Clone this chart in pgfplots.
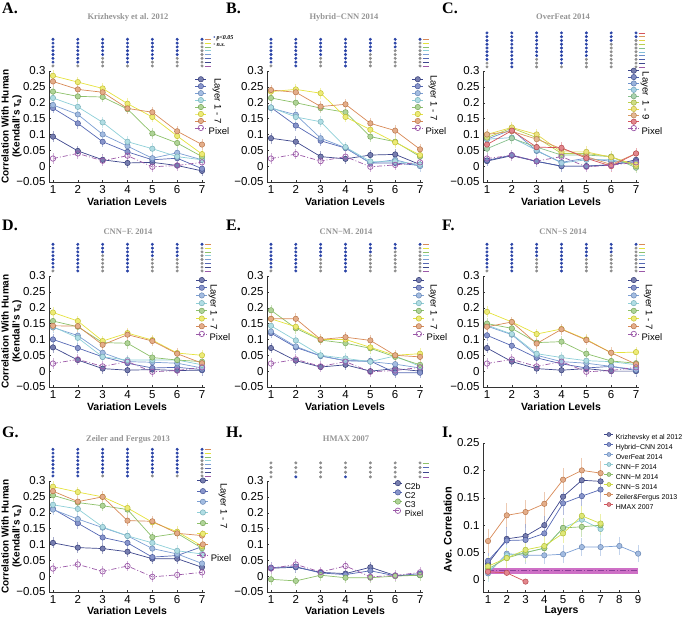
\documentclass[border=0pt]{standalone}
\usepackage{pgfplots}
\pgfplotsset{compat=1.18}
\usepackage{pgfplotstable}
\usepackage{fontspec}
\setmainfont{Liberation Sans}
\newfontfamily\serif{Liberation Serif}

\definecolor{s1}{HTML}{3D468C}
\definecolor{s2}{HTML}{5568B4}
\definecolor{s3}{HTML}{7C9FD4}
\definecolor{s4}{HTML}{8ECFD8}
\definecolor{s5}{HTML}{8DC16A}
\definecolor{s6}{HTML}{E5E23C}
\definecolor{s7}{HTML}{D88A57}
\definecolor{n1}{HTML}{3D468C}
\definecolor{n2}{HTML}{4B5DA8}
\definecolor{n3}{HTML}{6C8FCC}
\definecolor{n4}{HTML}{83BED8}
\definecolor{n5}{HTML}{86C08C}
\definecolor{n6}{HTML}{B9CF4E}
\definecolor{n7}{HTML}{E2D646}
\definecolor{n8}{HTML}{D99A62}
\definecolor{n9}{HTML}{D6545C}
\definecolor{pcol}{HTML}{9B59A8}
\definecolor{ys}{HTML}{D2DE3E}
\definecolor{sigblue}{HTML}{2A43A6}
\definecolor{siggrey}{HTML}{8C8C8C}
\definecolor{bandc}{HTML}{C24CB8}
\definecolor{bandl}{HTML}{8E3F9A}

% columns: variation level, layers 1..7, pixel
\pgfplotstableread{
x L1 L2 L3 L4 L5 L6 L7 P
1 0.093 0.183 0.193 0.215 0.235 0.285 0.267 0.024
2 0.048 0.135 0.163 0.187 0.220 0.265 0.242 0.040
3 0.020 0.077 0.100 0.138 0.218 0.245 0.233 0.017
4 0.010 0.045 0.063 0.077 0.180 0.197 0.182 0.033
5 0.012 0.020 0.025 0.055 0.103 0.155 0.170 -0.002
6 0.002 0.025 0.042 0.030 0.073 0.095 0.110 0.002
7 -0.015 -0.008 0.020 0.020 0.030 0.038 0.068 0.012
}\tabA
\pgfplotstableread{
x L1 L2 L3 L4 L5 L6 L7 P
1 0.088 0.185 0.183 0.185 0.215 0.235 0.240 0.024
2 0.077 0.128 0.162 0.155 0.200 0.242 0.233 0.038
3 0.030 0.080 0.088 0.140 0.183 0.230 0.188 0.016
4 0.023 0.057 0.058 0.060 0.170 0.155 0.195 0.030
5 0.035 0.010 0.010 0.015 0.093 0.115 0.135 -0.002
6 0.037 0.010 0.020 0.015 0.077 0.075 0.112 0.004
7 0.005 0.002 0.000 0.005 0.030 0.035 0.053 0.012
}\tabB
\pgfplotstableread{
x L1 L2 L3 L4 L5 L6 L7 L8 L9 P
1 0.016 0.018 0.085 0.085 0.055 0.090 0.100 0.100 0.068 0.024
2 0.033 0.035 0.115 0.090 0.088 0.120 0.122 0.110 0.112 0.034
3 0.015 0.015 0.048 0.050 0.060 0.090 0.100 0.085 0.060 0.016
4 0.000 0.000 0.012 0.010 0.035 0.040 0.045 0.055 0.058 0.030
5 0.000 0.000 0.025 0.020 0.035 0.040 0.045 0.030 0.025 -0.002
6 0.003 0.005 0.015 0.020 0.030 0.030 0.028 0.005 0.000 0.003
7 0.020 0.015 0.010 0.005 -0.005 0.000 0.005 0.040 0.040 0.012
}\tabC
\pgfplotstableread{
x L1 L2 L3 L4 L5 L6 L7 P
1 0.075 0.100 0.138 0.140 0.158 0.185 0.143 0.024
2 0.035 0.073 0.112 0.105 0.140 0.158 0.142 0.037
3 0.008 0.045 0.058 0.045 0.090 0.095 0.083 0.015
4 0.003 0.025 0.030 0.035 0.088 0.120 0.115 0.030
5 0.005 0.010 0.028 0.035 0.043 0.098 0.095 -0.002
6 0.002 0.012 0.025 0.035 0.035 0.057 0.055 0.002
7 0.003 0.005 0.010 0.020 0.030 0.050 0.025 0.012
}\tabD
\pgfplotstableread{
x L1 L2 L3 L4 L5 L6 L7 P
1 0.073 0.120 0.125 0.143 0.192 0.165 0.165 0.024
2 0.033 0.075 0.078 0.097 0.135 0.140 0.165 0.037
3 0.013 0.048 0.048 0.050 0.098 0.100 0.100 0.015
4 0.020 0.033 0.033 0.040 0.088 0.100 0.107 0.030
5 0.000 0.032 0.030 0.030 0.072 0.075 0.097 -0.002
6 0.008 -0.005 0.022 0.048 0.045 0.050 0.050 0.002
7 0.000 -0.005 0.010 0.015 0.020 0.055 0.045 0.012
}\tabE
\pgfplotstableread{
x L1 L2 L3 L4 L5 L6 L7 P
1 0.073 0.113 0.142 0.145 0.150 0.187 0.140 0.024
2 0.030 0.080 0.115 0.117 0.135 0.155 0.155 0.037
3 0.008 0.042 0.050 0.055 0.090 0.117 0.087 0.015
4 0.003 0.023 0.030 0.043 0.093 0.133 0.132 0.030
5 0.008 0.010 0.025 0.033 0.055 0.100 0.098 -0.002
6 0.000 0.015 0.015 0.030 0.032 0.058 0.058 0.002
7 0.000 0.002 0.005 0.020 0.025 0.060 0.022 0.012
}\tabF
\pgfplotstableread{
x L1 L2 L3 L4 L5 L6 L7 P
1 0.105 0.212 0.210 0.225 0.255 0.282 0.268 0.024
2 0.090 0.167 0.180 0.212 0.232 0.265 0.235 0.037
3 0.087 0.122 0.153 0.155 0.222 0.250 0.250 0.015
4 0.077 0.105 0.127 0.127 0.210 0.215 0.175 0.032
5 0.055 0.060 0.087 0.105 0.123 0.170 0.173 -0.002
6 0.055 0.065 0.070 0.080 0.135 0.140 0.135 0.004
7 0.028 0.093 0.040 0.070 0.088 0.095 0.128 0.012
}\tabG
\pgfplotstableread{
x C2b C2 C3 P
1 0.025 0.027 -0.010 0.024
2 0.028 0.030 -0.015 0.037
3 0.012 0.010 0.003 0.013
4 0.008 0.005 -0.005 0.032
5 0.028 0.017 -0.005 -0.002
6 0.002 0.001 0.000 0.002
7 0.003 0.008 0.003 0.012
}\tabH

\pgfplotsset{
  lay/.style={color=#1, line width=0.7pt, mark=*, mark size=2.7pt,
    mark options={fill=#1!70!white, draw=#1!85!black, line width=0.5pt},
    error bars/y dir=both, error bars/y fixed=0.017, error bars/error mark=none,
    error bars/error bar style={line width=0.8pt, color=#1!45!white}},
  pix/.style={color=pcol, line width=0.7pt, dash pattern=on 5pt off 2pt on 1pt off 2pt,
    mark=o, mark size=2.7pt, mark options={solid, fill=white},
    error bars/y dir=both, error bars/y fixed=0.017, error bars/error mark=none,
    error bars/error bar style={solid, line width=0.8pt, color=pcol!45!white}},
  sigb/.style={only marks, mark=*, mark size=1.3pt, color=sigblue, forget plot},
  sigg/.style={only marks, mark=*, mark size=1.3pt, color=siggrey, forget plot},
  base/.style={scale only axis, clip=false,
    axis x line*=bottom, axis y line*=left,
    tick align=inside, major tick length=2pt,
    tick style={black!80, line width=0.4pt},
    axis line style={black!80, line width=0.5pt},
    tick label style={font=\fontsize{11.5}{13}\selectfont},
    /pgf/number format/assume math mode=true,
    legend cell align=left,
    legend style={draw=none, fill=none, inner sep=0pt, outer sep=0pt,
      anchor=north west, column sep=2pt,
      font=\fontsize{9.5}{10}\selectfont}},
  vl/.style={base, width=156pt, height=111pt,
    xmin=0.84, xmax=7.12, ymin=-0.05, ymax=0.3,
    xtick={1,2,3,4,5,6,7},
    ytick={-0.05,0,0.05,0.1,0.15,0.2,0.25,0.3},
    yticklabels={−0.05,0,0.05,0.1,0.15,0.2,0.25,0.3},
    xlabel={Variation Levels},
    xlabel style={font=\bfseries\fontsize{10.5}{12}\selectfont,
      at={(axis description cs:0.5,-0.18)}, anchor=center}},
  ylab/.style={ylabel={Correlation With Human\\(Kendall's τ\textsubscript{a})},
    ylabel style={align=center, font=\bfseries\fontsize{10}{11}\selectfont,
      at={(axis description cs:-0.24,0.5)}, anchor=center}},
  leg/.style n args={5}{legend style={at={(axis description cs:#1,#2)}, row sep=#5,
    nodes={inner sep=0pt, text height=#3, text depth=#4}}},
  limg/.style={legend image code/.code={\draw[mark repeat=2, mark phase=2, yshift=3.2pt]
    plot coordinates {(0pt,0pt) (5.5pt,0pt) (11pt,0pt)};}},
  seven/.style={legend entries={\mbox{},\mbox{},\mbox{},\mbox{},\mbox{},\mbox{},\mbox{},Pixel}}
}

% significance dots for one column: x, rows, number of blue rows from the top, base y, step
\newcommand\sigcol[5]{%
  \gdef\sigB{}\gdef\sigG{}%
  \foreach \k in {1,...,#2}{%
    \pgfmathsetmacro\yy{#4+(#2-\k)*#5}%
    \ifnum\k>#3\relax\xdef\sigG{\sigG(#1,\yy)}\else\xdef\sigB{\sigB(#1,\yy)}\fi}%
  \ifx\sigB\empty\else\edef\tmp{\noexpand\addplot[sigb] coordinates {\sigB};}\tmp\fi
  \ifx\sigG\empty\else\edef\tmp{\noexpand\addplot[sigg] coordinates {\sigG};}\tmp\fi}
\newcommand\sigpanel[4]{\foreach[count=\xx] \n in {#2}{\sigcol{\xx}{#1}{\n}{#3}{#4}}}
\newcommand\rowlines[4]{%
  \foreach[count=\k] \cc in {#2}{%
    \pgfmathsetmacro\yy{#3+(#1-\k)*#4}%
    \edef\tmp{\noexpand\addplot[forget plot, color=\cc, line width=0.5pt] coordinates {(7.1,\yy) (7.38,\yy)};}\tmp}}
\newcommand\sevenpanel[1]{%
  \foreach \i in {1,...,7}{\edef\tmp{\noexpand\addplot[lay=s\i] table[x=x,y=L\i]{\noexpand#1};}\tmp}%
  \addplot[pix] table[x=x,y=P]{#1};
  \rowlines{8}{s7,s6,s5,s4,s3,s2,s1,pcol}{0.316}{0.012}}

\begin{document}
\begin{tikzpicture}
\useasboundingbox (0pt,0pt) rectangle (685pt,-618pt);

% ---------- A
\begin{axis}[vl, ylab, seven, limg, leg={0.936}{0.950}{6.65pt}{0.25pt}{-2.4pt},
  at={(49pt,-182pt)}, anchor=south west]
\sevenpanel{\tabA}
\sigpanel{8}{7,7,5,7,6,5,1}{0.316}{0.012}
\node[rotate=-90, font=\fontsize{9.5}{10}\selectfont] at (axis description cs:1.077,0.73) {Layer 1 - 7};
\node[anchor=west, inner sep=0pt, font=\serif\bfseries\itshape\fontsize{6}{6}\selectfont]
  at (axis cs:7.45,0.403) {\textcolor{sigblue}{•}\,p<0.05};
\node[anchor=west, inner sep=0pt, font=\serif\bfseries\itshape\fontsize{6}{6}\selectfont]
  at (axis cs:7.45,0.383) {\textcolor{siggrey}{•}\,n.s.};
\end{axis}

% ---------- B
\begin{axis}[vl, seven, limg, leg={0.929}{0.950}{6.65pt}{0.25pt}{-2.4pt},
  at={(267pt,-182pt)}, anchor=south west]
\sevenpanel{\tabB}
\sigpanel{8}{7,8,5,8,4,3,1}{0.316}{0.012}
\node[rotate=-90, font=\fontsize{9.5}{10}\selectfont] at (axis description cs:1.064,0.757) {Layer 1 - 7};
\end{axis}

% ---------- C
\begin{axis}[vl, limg, leg={0.929}{1.027}{6.35pt}{0pt}{-2.7pt},
  legend entries={\mbox{},\mbox{},\mbox{},\mbox{},\mbox{},\mbox{},\mbox{},\mbox{},\mbox{},Pixel},
  at={(483pt,-182pt)}, anchor=south west]
\foreach \i in {1,...,9}{\edef\tmp{\noexpand\addplot[lay=n\i] table[x=x,y=L\i]{\noexpand\tabC};}\tmp}
\addplot[pix] table[x=x,y=P]{\tabC};
\rowlines{10}{n9,n8,n7,n6,n5,n4,n3,n2,n1,pcol}{0.313}{0.0119}
\sigpanel{10}{8,10,7,9,7,3,2}{0.313}{0.0119}
\node[rotate=-90, font=\fontsize{9.5}{10}\selectfont] at (axis description cs:1.038,0.775) {Layer \ 1 - 9};
\end{axis}

% ---------- D
\begin{axis}[vl, ylab, seven, limg, leg={0.942}{0.988}{6.9pt}{0.5pt}{-1.9pt},
  at={(49pt,-387pt)}, anchor=south west]
\sevenpanel{\tabD}
\sigpanel{8}{7,8,3,8,4,4,1}{0.316}{0.012}
\node[rotate=-90, font=\fontsize{9.5}{10}\selectfont] at (axis description cs:1.051,0.72) {Layer 1 - 7};
\end{axis}

% ---------- E
\begin{axis}[vl, seven, limg, leg={0.936}{0.988}{6.9pt}{0.5pt}{-1.9pt},
  at={(267pt,-387pt)}, anchor=south west]
\sevenpanel{\tabE}
\sigpanel{8}{7,8,4,8,3,2,1}{0.316}{0.012}
\node[rotate=-90, font=\fontsize{9.5}{10}\selectfont] at (axis description cs:1.064,0.72) {Layer 1 - 7};
\end{axis}

% ---------- F
\begin{axis}[vl, seven, limg, leg={0.929}{0.988}{6.9pt}{0.5pt}{-1.9pt},
  at={(483pt,-387pt)}, anchor=south west]
\sevenpanel{\tabF}
\sigpanel{8}{7,8,4,8,4,3,1}{0.316}{0.012}
\node[rotate=-90, font=\fontsize{9.5}{10}\selectfont] at (axis description cs:1.058,0.72) {Layer 1 - 7};
\end{axis}

% ---------- G
\begin{axis}[vl, ylab, seven, limg, leg={0.949}{1.029}{8.35pt}{1.95pt}{-0.4pt},
  xlabel style={at={(axis description cs:0.5,-0.17)}},
  at={(49pt,-592pt)}, anchor=south west]
\sevenpanel{\tabG}
\sigpanel{8}{8,8,7,8,7,7,3}{0.316}{0.012}
\node[rotate=-90, font=\fontsize{9.5}{10}\selectfont] at (axis description cs:1.115,0.775) {Layer 1 - 7};
\end{axis}

% ---------- H
\begin{axis}[vl, leg={0.808}{1.005}{7.5pt}{1.5pt}{-1pt},
  xlabel style={at={(axis description cs:0.5,-0.17)}},
  legend style={font=\fontsize{8.5}{9}\selectfont},
  legend image code/.code={\draw[mark repeat=2, mark phase=2, yshift=3pt]
    plot coordinates {(0pt,0pt) (4.5pt,0pt) (9pt,0pt)};},
  legend entries={C2b,C2,C3,Pixel},
  at={(267pt,-592pt)}, anchor=south west]
\addplot[lay=s1] table[x=x,y=C2b]{\tabH};
\addplot[lay=s2] table[x=x,y=C2]{\tabH};
\addplot[lay=s5] table[x=x,y=C3]{\tabH};
\addplot[pix] table[x=x,y=P]{\tabH};
\rowlines{4}{s5,s2,s1,pcol}{0.313}{0.0147}
\addplot[sigg] coordinates {(1,0.313)(1,0.3277)(1,0.3424)(1,0.3571)
  (2,0.3277)(2,0.3424)(2,0.3571)
  (3,0.313)(3,0.3277)(3,0.3424)(3,0.3571)
  (4,0.3277)(4,0.3424)(4,0.3571)
  (5,0.313)(5,0.3277)(5,0.3424)(5,0.3571)
  (6,0.313)(6,0.3277)(6,0.3424)(6,0.3571)
  (7,0.313)(7,0.3277)(7,0.3424)(7,0.3571)};
\addplot[sigb] coordinates {(2,0.313)(4,0.313)};
\end{axis}

% ---------- I
\begin{axis}[base, width=157pt, height=149pt,
  xmin=0.733, xmax=9.1, ymin=-0.022, ymax=0.25,
  xtick={1,2,3,4,5,6,7,8,9},
  ytick={0,0.05,0.1,0.15,0.2,0.25},
  yticklabels={0,0.05,0.1,0.15,0.2,0.25},
  xlabel={Layers},
  xlabel style={font=\bfseries\fontsize{10.5}{12}\selectfont,
    at={(axis description cs:0.5,-0.13)}, anchor=center},
  ylabel={Ave. Correlation},
  ylabel style={font=\bfseries\fontsize{11}{13}\selectfont,
    at={(axis description cs:-0.225,0.42)}, anchor=center},
  leg={0.771}{1.074}{7.5pt}{2.5pt}{0pt},
  legend style={font=\fontsize{7}{8}\selectfont},
  legend image code/.code={\draw[mark repeat=2, mark phase=2, mark size=2pt, yshift=2.5pt]
    plot coordinates {(0pt,0pt) (4.5pt,0pt) (9pt,0pt)};},
  legend entries={Krizhevsky et al 2012, Hybrid−CNN 2014, OverFeat 2014, CNN−F 2014,
    CNN−M 2014, CNN−S 2014, Zeiler\&Fergus 2013, HMAX 2007},
  at={(483pt,-592pt)}, anchor=south west]
\addplot[fill=bandc, draw=none, forget plot, fill opacity=0.8]
  coordinates {(1,0.0115) (9,0.0115) (9,0.0225) (1,0.0225)} -- cycle;
\addplot[forget plot, color=bandl, line width=0.8pt, dash pattern=on 6pt off 2pt on 1pt off 2pt]
  coordinates {(1,0.017) (9,0.017)};
\addplot[lay=s1, error bars/y fixed=0.022] coordinates {(1,0.030)(2,0.075)(3,0.080)(4,0.100)(5,0.152)(6,0.182)(7,0.180)};
\addplot[lay=s2, error bars/y fixed=0.022] coordinates {(1,0.035)(2,0.072)(3,0.073)(4,0.085)(5,0.140)(6,0.153)(7,0.165)};
\addplot[lay=s3, error bars/y fixed=0.016] coordinates {(1,0.012)(2,0.048)(3,0.045)(4,0.045)(5,0.047)(6,0.060)(7,0.060)(8,0.062)(9,0.048)};
\addplot[lay=s4, error bars/y fixed=0.018] coordinates {(1,0.015)(2,0.045)(3,0.050)(4,0.058)(5,0.095)(6,0.110)(7,0.093)};
\addplot[lay=s5, error bars/y fixed=0.018] coordinates {(1,0.020)(2,0.040)(3,0.050)(4,0.058)(5,0.095)(6,0.097)(7,0.100)};
\addplot[lay=ys, error bars/y fixed=0.018] coordinates {(1,0.025)(2,0.040)(3,0.055)(4,0.062)(5,0.085)(6,0.117)(7,0.103)};
\addplot[lay=s7, error bars/y fixed=0.022] coordinates {(1,0.071)(2,0.118)(3,0.124)(4,0.139)(5,0.183)(6,0.200)(7,0.195)};
\addplot[lay=n9, error bars/y fixed=0.004] coordinates {(1,0.015)(2,0.013)(3,-0.003)};
\end{axis}

% ---------- panel letters and titles
\begin{scope}[every node/.style={anchor=north west, inner sep=0pt, font=\serif\bfseries\fontsize{16}{16}\selectfont}]
\node at (2pt,-3pt) {A.};   \node at (226pt,-3pt) {B.};   \node at (442pt,-3pt) {C.};
\node at (2pt,-220pt) {D.}; \node at (226pt,-220pt) {E.}; \node at (442pt,-220pt) {F.};
\node at (2pt,-427pt) {G.}; \node at (226pt,-427pt) {H.}; \node at (442pt,-427pt) {I.};
\end{scope}
\begin{scope}[every node/.style={inner sep=0pt, text=black!42, font=\serif\bfseries\fontsize{8.5}{9}\selectfont}]
\node at (128pt,-17pt) {Krizhevsky et al. 2012};
\node at (344pt,-17pt) {Hybrid−CNN 2014};
\node at (563pt,-17pt) {OverFeat 2014};
\node at (128pt,-232pt) {CNN−F. 2014};
\node at (346pt,-232pt) {CNN−M. 2014};
\node at (563pt,-232pt) {CNN−S 2014};
\node at (128pt,-439pt) {Zeiler and Fergus 2013};
\node at (346pt,-439pt) {HMAX 2007};
\end{scope}
\end{tikzpicture}
\end{document}
